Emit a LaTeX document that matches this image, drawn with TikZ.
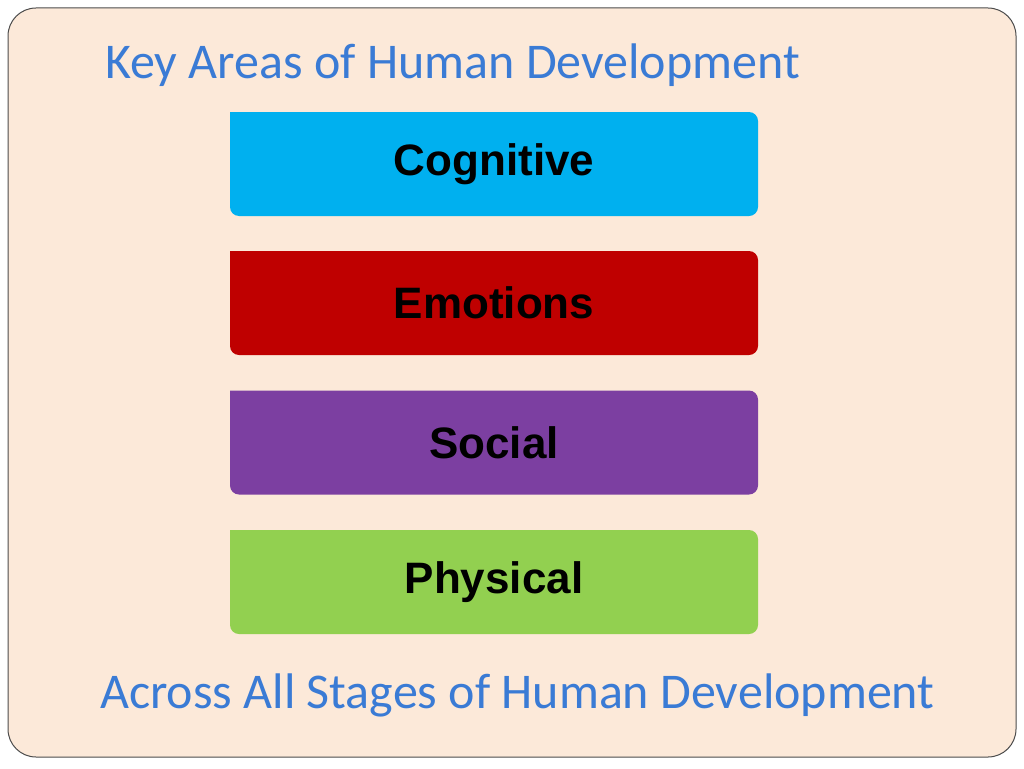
\documentclass[tikz,border=0pt]{standalone}
\usepackage{fontspec}
\setmainfont{Liberation Sans}
\newfontfamily\titlefont{Carlito}
\definecolor{bg}{HTML}{FCE9D9}
\definecolor{ttl}{HTML}{3A7BD5}
\definecolor{cyanbox}{HTML}{00B0EF}
\definecolor{redbox}{HTML}{BF0000}
\definecolor{purplebox}{HTML}{7C3FA1}
\definecolor{greenbox}{HTML}{92D050}
\begin{document}
\begin{tikzpicture}[x=1pt,y=-1pt,
  area/.style={minimum width=528pt,minimum height=104pt,inner sep=0pt,
    rounded corners=0pt,font=\fontsize{44}{50}\selectfont\bfseries,text=black},
  ttltext/.style={font=\titlefont\fontsize{50}{56}\selectfont,text=ttl,inner sep=0pt}]
\useasboundingbox (0,0) rectangle (1024,768);
\draw[fill=bg,draw=black!70,line width=1pt,rounded corners=28pt] (8,8) rectangle (1016,757);
\foreach \n/\c/\t/\y in {cog/cyanbox/Cognitive/164, emo/redbox/Emotions/303, soc/purplebox/Social/442.5, phy/greenbox/Physical/582}{
  \fill[\c,rounded corners=9pt] (230,\y-52) -- (758,\y-52) -- (758,\y+52) -- (230,\y+52) [sharp corners] -- cycle;
  \node[area,text width=528pt,align=center] (\n) at (494,\y) {\t};
}
\node[ttltext,anchor=base west] (title) at (105,78) {Key Areas of Human Development};
\node[ttltext,anchor=base west] (foot) at (100,708) {Across All Stages of Human Development};
\end{tikzpicture}
\end{document}
